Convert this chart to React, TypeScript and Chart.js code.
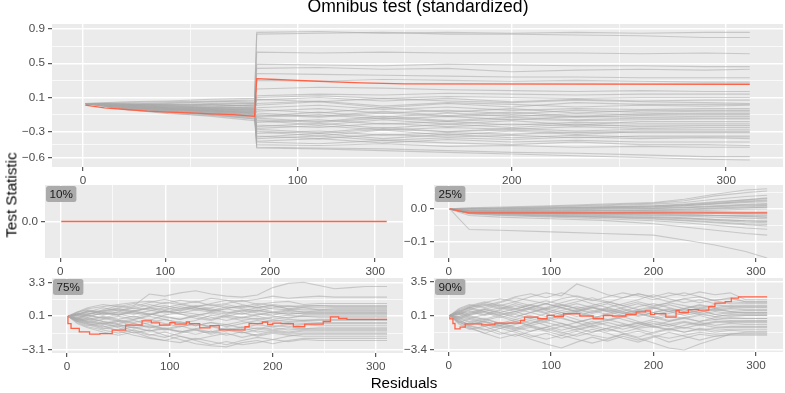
import React, { useEffect, useRef } from "react";
import { Chart, registerables } from "chart.js";
Chart.register(...registerables);

const FONT = "'Liberation Sans', Arial, Helvetica, sans-serif";
const RED = "#FF6347";
const GREY = "rgba(170,170,170,0.55)";

// ---- shared x axis ----
const X_MAJOR = [0, 100, 200, 300];
const X_MINOR = [50, 150, 250];
const X_MIN = -14.5;
const X_MAX = 326.5;

// ---- Omnibus test (standardized) ----
const TOP_Y_MAJOR = [0.9, 0.5, 0.1, -0.3, -0.6];
const TOP_Y_LABELS = ["0.9", "0.5", "0.1", "−0.3", "−0.6"];
const TOP_Y_MINOR = [0.7, 0.3, -0.1, -0.45];
const TOP_RED_X = [1, 10, 20, 30, 40, 50, 60, 70, 80, 81, 90, 100, 110, 120, 130, 140, 150, 311];
const TOP_RED_Y = [0.01, -0.02, -0.04, -0.06, -0.07, -0.08, -0.09, -0.1, -0.12, 0.32, 0.31, 0.3, 0.29, 0.28, 0.27, 0.265, 0.26, 0.255];
const TOP_GREY_X = [1, 20, 40, 60, 80, 81, 110, 140, 170, 200, 230, 260, 290, 311];
const TOP_GREY = [
  [0.03, 0.05, 0.06, 0.08, 0.09, 0.86, 0.87, 0.85, 0.86, 0.85, 0.86, 0.85, 0.86, 0.86],
  [0.03, 0.04, 0.05, 0.06, 0.07, 0.84, 0.85, 0.86, 0.84, 0.84, 0.83, 0.82, 0.8, 0.8],
  [0.03, 0.02, 0.03, 0.05, 0.04, 0.63, 0.62, 0.63, 0.62, 0.62, 0.62, 0.61, 0.62, 0.61],
  [0.03, 0.03, 0.01, 0.02, 0.03, 0.49, 0.48, 0.47, 0.49, 0.48, 0.47, 0.47, 0.46, 0.46],
  [0.03, 0.01, 0.02, 0.0, 0.01, 0.44, 0.45, 0.43, 0.44, 0.4, 0.42, 0.43, 0.42, 0.43],
  [0.03, 0.02, 0.0, -0.01, 0.02, 0.38, 0.37, 0.36, 0.35, 0.34, 0.34, 0.33, 0.33, 0.33],
  [0.03, 0.02, 0.04, 0.05, 0.06, 0.3, 0.29, 0.31, 0.3, 0.29, 0.3, 0.29, 0.28, 0.28],
  [0.03, 0.0, -0.01, -0.02, -0.01, 0.2, 0.22, 0.21, 0.19, 0.18, 0.17, 0.18, 0.17, 0.17],
  [0.03, 0.01, -0.02, -0.03, -0.03, 0.12, 0.14, 0.13, 0.15, 0.14, 0.13, 0.14, 0.14, 0.14],
  [0.03, 0.01, 0.01, 0.02, 0.0, 0.07, 0.1, 0.06, 0.09, 0.05, 0.08, 0.06, 0.07, 0.07],
  [0.03, -0.01, -0.03, -0.04, -0.05, 0.08, 0.05, 0.09, 0.06, 0.04, 0.07, 0.05, 0.04, 0.03],
  [0.03, 0.0, -0.03, -0.05, -0.06, 0.03, 0.06, 0.0, 0.04, 0.02, -0.01, 0.01, 0.0, 0.01],
  [0.03, -0.01, -0.04, -0.06, -0.08, -0.02, 0.01, -0.04, -0.01, -0.05, -0.03, -0.04, -0.03, -0.03],
  [0.03, -0.02, -0.05, -0.07, -0.09, -0.06, -0.03, -0.08, -0.05, -0.09, -0.05, -0.07, -0.06, -0.06],
  [0.03, -0.02, -0.06, -0.08, -0.11, -0.1, -0.13, -0.08, -0.12, -0.1, -0.13, -0.11, -0.1, -0.1],
  [0.03, -0.03, -0.06, -0.09, -0.12, -0.13, -0.1, -0.15, -0.12, -0.16, -0.12, -0.13, -0.12, -0.12],
  [0.03, -0.03, -0.07, -0.1, -0.14, -0.16, -0.19, -0.14, -0.18, -0.15, -0.17, -0.16, -0.15, -0.15],
  [0.03, -0.04, -0.08, -0.12, -0.17, -0.19, -0.16, -0.21, -0.18, -0.22, -0.19, -0.2, -0.2, -0.2],
  [0.03, -0.04, -0.09, -0.11, -0.15, -0.22, -0.25, -0.2, -0.24, -0.21, -0.23, -0.22, -0.22, -0.22],
  [0.03, -0.02, -0.04, -0.06, -0.07, -0.26, -0.23, -0.28, -0.25, -0.27, -0.24, -0.26, -0.25, -0.25],
  [0.03, -0.01, -0.02, -0.04, -0.04, -0.29, -0.32, -0.27, -0.3, -0.28, -0.31, -0.29, -0.29, -0.29],
  [0.03, 0.01, 0.0, -0.01, -0.02, -0.32, -0.29, -0.34, -0.31, -0.33, -0.3, -0.31, -0.31, -0.31],
  [0.03, 0.02, 0.01, 0.01, 0.0, -0.35, -0.38, -0.33, -0.36, -0.34, -0.37, -0.35, -0.35, -0.35],
  [0.03, 0.0, -0.01, -0.03, -0.04, -0.38, -0.35, -0.4, -0.37, -0.39, -0.36, -0.38, -0.37, -0.38],
  [0.03, -0.01, -0.03, -0.05, -0.07, -0.42, -0.44, -0.4, -0.43, -0.45, -0.42, -0.45, -0.45, -0.46],
  [0.03, -0.02, -0.05, -0.07, -0.1, -0.45, -0.46, -0.44, -0.47, -0.46, -0.48, -0.47, -0.48, -0.48],
  [0.03, -0.03, -0.07, -0.1, -0.13, -0.48, -0.49, -0.5, -0.52, -0.54, -0.55, -0.57, -0.59, -0.59],
  [0.03, -0.01, -0.04, -0.06, -0.08, -0.49, -0.5, -0.52, -0.54, -0.56, -0.58, -0.6, -0.62, -0.63],
  [0.03, 0.0, -0.02, -0.03, -0.05, -0.04, -0.08, -0.02, -0.07, -0.03, -0.08, -0.05, -0.05, -0.05],
  [0.03, -0.01, -0.03, -0.06, -0.09, -0.12, -0.07, -0.13, -0.08, -0.12, -0.09, -0.1, -0.09, -0.09],
  [0.03, 0.01, -0.01, -0.02, -0.03, -0.17, -0.22, -0.16, -0.21, -0.17, -0.22, -0.18, -0.18, -0.18],
  [0.03, -0.02, -0.04, -0.05, -0.06, -0.24, -0.2, -0.26, -0.21, -0.25, -0.21, -0.24, -0.23, -0.23],
  [0.03, 0.0, -0.02, -0.04, -0.06, -0.3, -0.35, -0.28, -0.34, -0.29, -0.33, -0.3, -0.3, -0.3],
  [0.03, -0.01, -0.05, -0.08, -0.11, -0.36, -0.32, -0.38, -0.33, -0.37, -0.34, -0.36, -0.36, -0.36],
  [0.03, -0.03, -0.06, -0.09, -0.12, -0.41, -0.38, -0.43, -0.39, -0.42, -0.4, -0.42, -0.42, -0.42],
  [0.03, 0.02, 0.02, 0.03, 0.03, 0.01, 0.05, -0.02, 0.03, -0.01, 0.04, 0.02, 0.02, 0.02],
  [0.03, 0.01, 0.0, -0.02, -0.02, -0.08, -0.12, -0.06, -0.11, -0.07, -0.12, -0.09, -0.08, -0.08],
  [0.03, -0.02, -0.06, -0.1, -0.15, -0.14, -0.18, -0.12, -0.17, -0.13, -0.16, -0.14, -0.14, -0.14],
  [0.03, 0.0, -0.03, -0.05, -0.08, 0.1, 0.12, 0.09, 0.11, 0.1, 0.09, 0.1, 0.1, 0.1],
  [0.03, -0.01, -0.04, -0.07, -0.1, -0.27, -0.31, -0.25, -0.3, -0.26, -0.29, -0.27, -0.27, -0.27],
];

// ---- 10% ----
const P10_Y_MAJOR = [0];
const P10_Y_LABELS = ["0.0"];
const P10_RED_X = [1, 311];
const P10_RED_Y = [0, 0];

// ---- 25% ----
const P25_Y_MAJOR = [0, -0.1];
const P25_Y_LABELS = ["0.0", "−0.1"];
const P25_Y_MINOR = [0.05, -0.05];
const P25_RED_X = [1, 10, 20, 311];
const P25_RED_Y = [0, -0.006, -0.012, -0.012];
const P25_GREY_X = [1, 10, 20, 50, 100, 150, 200, 230, 260, 290, 311];
const P25_GREY = [
  [0, -0.03, -0.063, -0.065, -0.07, -0.075, -0.08, -0.095, -0.11, -0.13, -0.15],
  [0, -0.01, -0.02, -0.025, -0.03, -0.035, -0.045, -0.055, -0.065, -0.075, -0.08],
  [0, 0.002, 0.004, 0.006, 0.01, 0.015, 0.02, 0.03, 0.045, 0.058, 0.062],
  [0, 0.001, 0.002, 0.004, 0.008, 0.012, 0.018, 0.025, 0.04, 0.05, 0.055],
  [0, 0, 0.001, 0.003, 0.006, 0.01, 0.015, 0.02, 0.03, 0.038, 0.042],
  [0, 0, 0, 0.002, 0.004, 0.007, 0.01, 0.015, 0.022, 0.028, 0.032],
  [0, -0.002, -0.004, -0.002, 0.002, 0.004, 0.006, 0.01, 0.015, 0.02, 0.022],
  [0, -0.003, -0.006, -0.005, -0.003, 0, 0.002, 0.004, 0.008, 0.012, 0.014],
  [0, -0.004, -0.008, -0.008, -0.006, -0.004, -0.002, 0, 0.002, 0.004, 0.005],
  [0, -0.005, -0.01, -0.011, -0.012, -0.012, -0.012, -0.013, -0.014, -0.015, -0.016],
  [0, -0.005, -0.011, -0.013, -0.016, -0.018, -0.02, -0.022, -0.025, -0.028, -0.03],
  [0, -0.006, -0.012, -0.015, -0.019, -0.022, -0.026, -0.03, -0.035, -0.04, -0.042],
  [0, -0.006, -0.013, -0.017, -0.022, -0.026, -0.031, -0.036, -0.042, -0.048, -0.052],
  [0, -0.007, -0.014, -0.019, -0.025, -0.03, -0.036, -0.042, -0.05, -0.058, -0.062],
  [0, -0.004, -0.009, -0.01, -0.01, -0.009, -0.008, -0.006, -0.004, -0.001, 0],
  [0, -0.002, -0.005, -0.004, -0.001, 0.002, 0.003, 0.006, 0.01, 0.014, 0.017],
  [0, -0.007, -0.015, -0.02, -0.022, -0.024, -0.026, -0.028, -0.032, -0.036, -0.038],
  [0, 0.001, 0.001, 0.001, 0.003, 0.005, 0.008, 0.012, 0.018, 0.022, 0.025],
  [0, -0.006, -0.011, -0.012, -0.014, -0.016, -0.018, -0.02, -0.02, -0.022, -0.024],
  [0, -0.003, -0.007, -0.007, -0.006, -0.005, -0.005, -0.003, 0, 0.003, 0.006],
  [0, -0.004, -0.009, -0.009, -0.008, -0.006, -0.004, -0.001, 0.003, 0.007, 0.009],
  [0, -0.005, -0.01, -0.012, -0.014, -0.015, -0.016, -0.018, -0.02, -0.019, -0.02],
  [0, -0.003, -0.006, -0.006, -0.004, -0.001, 0.001, 0.004, 0.007, 0.01, 0.011],
  [0, -0.006, -0.012, -0.014, -0.017, -0.02, -0.023, -0.027, -0.032, -0.036, -0.037],
  [0, -0.002, -0.004, -0.003, 0, 0.003, 0.006, 0.01, 0.016, 0.024, 0.028],
  [0, -0.005, -0.011, -0.012, -0.013, -0.014, -0.014, -0.016, -0.019, -0.023, -0.026],
  [0, -0.004, -0.008, -0.009, -0.01, -0.011, -0.01, -0.009, -0.011, -0.013, -0.012],
  [0, -0.006, -0.013, -0.016, -0.02, -0.024, -0.029, -0.034, -0.04, -0.045, -0.047],
  [0, -0.001, -0.002, 0, 0.003, 0.006, 0.01, 0.013, 0.02, 0.028, 0.034],
  [0, -0.003, -0.007, -0.007, -0.007, -0.006, -0.007, -0.007, -0.008, -0.009, -0.009],
];

// ---- 75% ----
const P75_Y_MAJOR = [3.3, 0.1, -3.1];
const P75_Y_LABELS = ["3.3", "0.1", "−3.1"];
const P75_Y_MINOR = [1.7, -1.5];
const P75_RED_X = [1, 4, 12, 22, 32, 44, 57, 73, 82, 90, 100, 105, 116, 119, 129, 139, 148, 161, 173, 177, 190, 195, 200, 208, 220, 231, 239, 249, 256, 264, 272, 311];
const P75_RED_Y = [0.1, -0.6, -1.06, -1.38, -1.6, -1.54, -1.22, -0.75, -0.34, -0.53, -0.75, -0.5, -0.65, -0.45, -0.6, -1.0, -0.8, -1.2, -1.2, -0.9, -0.6, -0.45, -0.7, -0.55, -0.6, -0.9, -0.65, -0.65, -0.4, 0.03, -0.12, -0.21];
const RW_X = [1, 10, 20, 35, 50, 65, 80, 95, 110, 125, 140, 155, 170, 185, 200, 215, 230, 245, 260, 275, 290, 311];
const P75_GREY = [
  [0.1, 0.3, 0.5, 0.6, 0.9, 1.1, 2.2, 2.0, 2.3, 2.5, 2.2, 2.0, 1.9, 2.1, 2.8, 3.2, 3.3, 3.0, 2.7, 2.8, 2.9, 2.9],
  [0.1, 0.4, 0.8, 1.0, 1.2, 1.4, 1.5, 1.3, 1.6, 1.4, 1.8, 1.6, 1.5, 1.7, 2.0, 1.8, 1.9, 2.0, 1.9, 1.9, 1.9, 1.9],
  [0.1, 0.5, 0.9, 1.2, 1.0, 1.3, 1.0, 1.4, 1.2, 1.5, 1.1, 1.3, 1.6, 1.2, 1.4, 1.5, 1.2, 1.3, 1.3, 1.3, 1.3, 1.3],
  [0.1, -0.2, 0.3, 0.6, 0.8, 0.5, 0.9, 1.1, 0.8, 1.0, 1.2, 0.9, 1.0, 1.3, 1.1, 0.8, 1.0, 1.1, 1.0, 1.0, 1.0, 1.0],
  [0.1, 0.2, 0.6, 0.3, 0.5, 0.9, 0.7, 0.4, 0.7, 0.9, 0.6, 1.0, 0.8, 0.6, 0.9, 1.1, 0.9, 0.7, 0.8, 0.8, 0.8, 0.8],
  [0.1, 0.3, 0.1, 0.4, 0.7, 0.4, 0.2, 0.6, 0.3, 0.1, 0.5, 0.3, 0.6, 0.9, 0.5, 0.7, 0.5, 0.6, 0.6, 0.6, 0.6, 0.6],
  [0.1, -0.1, 0.2, -0.1, 0.3, 0.6, 0.3, 0.0, -0.2, 0.2, 0.4, 0.1, -0.1, 0.2, 0.5, 0.3, 0.4, 0.4, 0.4, 0.4, 0.4, 0.4],
  [0.1, 0.2, -0.2, 0.1, -0.2, 0.1, -0.3, 0.2, 0.5, 0.3, 0.0, -0.3, 0.0, 0.3, 0.1, -0.1, 0.2, 0.2, 0.2, 0.2, 0.2, 0.2],
  [0.1, -0.3, -0.5, -0.2, 0.1, -0.2, 0.2, 0.6, 0.3, -0.1, -0.3, 0.1, 0.4, 0.1, -0.2, 0.0, 0.1, 0.0, 0.0, 0.0, 0.0, 0.0],
  [0.1, 0.0, -0.4, -0.7, -0.4, -0.8, -0.5, -0.2, -0.6, -0.3, 0.2, 0.0, -0.3, -0.1, -0.4, -0.2, -0.3, -0.2, -0.2, -0.2, -0.2, -0.2],
  [0.1, -0.4, -0.8, -0.5, -0.9, -0.6, -1.0, -0.7, -0.4, -0.8, -0.5, -0.9, -0.6, -0.3, -0.6, -0.5, -0.4, -0.5, -0.5, -0.5, -0.5, -0.5],
  [0.1, -0.2, -0.6, -1.0, -1.2, -0.9, -1.3, -1.0, -1.4, -1.1, -0.8, -1.2, -0.9, -1.1, -0.8, -0.9, -0.7, -0.8, -0.8, -0.8, -0.8, -0.8],
  [0.1, -0.5, -0.9, -1.2, -1.5, -1.2, -1.6, -1.9, -1.5, -1.2, -1.6, -1.3, -1.0, -1.4, -1.2, -1.0, -1.1, -1.0, -1.0, -1.0, -1.0, -1.0],
  [0.1, -0.3, -0.7, -1.1, -0.8, -1.3, -1.7, -1.4, -1.8, -2.1, -1.8, -1.5, -1.9, -1.6, -1.3, -1.5, -1.3, -1.3, -1.3, -1.3, -1.3, -1.3],
  [0.1, -0.6, -1.0, -1.4, -1.7, -1.4, -1.9, -2.2, -2.4, -2.0, -2.3, -2.6, -2.2, -1.9, -2.1, -1.8, -1.6, -1.6, -1.6, -1.6, -1.6, -1.6],
  [0.1, -0.4, -0.2, -0.6, -1.0, -1.5, -1.2, -1.7, -2.1, -2.5, -2.7, -2.8, -2.4, -2.2, -2.5, -2.2, -2.0, -2.0, -2.0, -2.0, -2.0, -2.0],
  [0.1, -0.1, -0.5, -0.8, -1.3, -1.7, -2.0, -2.2, -1.8, -2.2, -2.6, -2.3, -2.6, -2.4, -2.1, -2.3, -2.1, -2.2, -2.2, -2.2, -2.2, -2.2],
  [0.1, 0.4, 0.2, 0.7, 1.1, 0.8, 1.2, 0.9, 0.6, 0.9, 0.7, 0.4, 0.7, 0.4, 0.2, 0.5, 0.3, 0.3, 0.3, 0.3, 0.3, 0.3],
  [0.1, 0.2, 0.5, 0.9, 0.6, 1.0, 1.4, 1.7, 1.3, 1.0, 1.3, 1.6, 1.2, 0.9, 1.1, 0.8, 0.7, 0.7, 0.7, 0.7, 0.7, 0.7],
  [0.1, -0.2, 0.0, -0.4, -0.6, -0.3, -0.7, -1.1, -0.8, -1.2, -1.5, -1.1, -1.4, -1.7, -1.4, -1.6, -1.5, -1.5, -1.5, -1.5, -1.5, -1.5],
  [0.1, 0.3, 0.0, 0.4, 0.2, 0.6, 0.9, 0.5, 0.8, 1.1, 0.8, 0.5, 0.3, 0.6, 0.4, 0.6, 0.5, 0.5, 0.5, 0.5, 0.5, 0.5],
  [0.1, -0.1, -0.3, 0.0, -0.3, -0.5, -0.2, -0.6, -0.9, -0.6, -0.9, -0.7, -1.0, -0.7, -0.9, -0.7, -0.6, -0.6, -0.6, -0.6, -0.6, -0.6],
  [0.1, 0.2, 0.4, 0.2, 0.5, 0.3, 0.6, 0.9, 1.2, 0.9, 0.6, 0.8, 1.1, 0.9, 1.2, 1.0, 1.1, 1.1, 1.1, 1.1, 1.1, 1.1],
  [0.1, -0.2, -0.4, -0.6, -0.3, -0.6, -0.9, -1.2, -0.9, -0.6, -0.9, -1.2, -1.5, -1.2, -1.0, -1.2, -1.1, -1.1, -1.1, -1.1, -1.1, -1.1],
  [0.1, 0.1, 0.3, 0.5, 0.3, 0.0, 0.3, 0.1, -0.2, 0.1, -0.2, 0.2, 0.0, -0.2, 0.0, 0.2, 0.1, 0.1, 0.1, 0.1, 0.1, 0.1],
  [0.1, -0.3, -0.1, -0.4, -0.7, -1.0, -0.8, -1.1, -1.3, -1.6, -1.3, -1.7, -1.4, -1.8, -1.5, -1.7, -1.8, -1.8, -1.8, -1.8, -1.8, -1.8],
  [0.1, 0.5, 0.7, 0.5, 0.8, 0.6, 0.9, 0.7, 1.0, 0.7, 0.9, 1.2, 0.9, 1.1, 0.8, 0.7, 0.9, 0.9, 0.9, 0.9, 0.9, 0.9],
  [0.1, 0.0, 0.2, -0.1, -0.4, -0.2, 0.1, -0.2, -0.5, -0.8, -0.5, -0.7, -0.4, -0.6, -0.3, -0.4, -0.3, -0.3, -0.3, -0.3, -0.3, -0.3],
  [0.1, -0.4, -0.6, -0.9, -0.7, -1.0, -1.3, -1.1, -1.4, -1.1, -1.4, -1.0, -1.3, -1.0, -1.2, -1.4, -1.2, -1.2, -1.2, -1.2, -1.2, -1.2],
  [0.1, 0.3, 0.6, 0.4, 0.2, 0.5, 0.3, 0.6, 0.4, 0.7, 0.5, 0.8, 0.5, 0.7, 0.4, 0.3, 0.4, 0.4, 0.4, 0.4, 0.4, 0.4],
];

// ---- 90% ----
const P90_Y_MAJOR = [3.5, 0.1, -3.4];
const P90_Y_LABELS = ["3.5", "0.1", "−3.4"];
const P90_Y_MINOR = [1.8, -1.65];
const P90_RED_X = [1, 4, 6, 11, 16, 32, 45, 57, 70, 74, 87, 96, 103, 112, 128, 141, 151, 160, 173, 183, 192, 197, 201, 212, 222, 225, 234, 244, 254, 260, 270, 276, 283, 289, 311];
const P90_RED_Y = [0.0, -0.24, -0.71, -1.25, -1.08, -0.74, -0.85, -0.67, -0.67, -0.4, -0.06, -0.23, 0.11, 0.0, 0.28, 0.05, -0.23, 0.1, 0.05, 0.2, 0.46, 0.56, 0.18, 0.3, -0.06, 0.62, 0.4, 0.7, 0.65, 1.0, 1.35, 1.5, 1.86, 2.0, 2.0];
const P90_GREY = [
  [0.1, 0.6, 1.0, 1.4, 1.8, 1.5, 2.0, 2.4, 2.1, 3.3, 2.8, 2.2, 1.9, 2.3, 2.0, 2.4, 2.1, 2.5, 2.2, 2.4, 1.7, 1.7],
  [0.1, 0.8, 1.2, 0.9, 1.4, 1.9, 1.6, 1.3, 1.8, 2.1, 1.7, 1.4, 1.9, 2.3, 1.9, 1.5, 1.8, 2.0, 1.6, 1.9, 1.5, 1.5],
  [0.1, 0.5, 0.9, 1.3, 1.0, 0.7, 1.2, 1.6, 1.2, 0.8, 1.1, 1.5, 1.1, 0.7, 1.0, 1.4, 1.1, 0.8, 1.2, 1.0, 1.1, 1.1],
  [0.1, 0.3, 0.6, 0.2, 0.7, 1.1, 0.7, 0.3, 0.6, 1.0, 0.6, 0.2, 0.5, 1.0, 1.3, 0.9, 0.5, 0.9, 0.6, 0.8, 0.7, 0.7],
  [0.1, -0.2, 0.3, 0.7, 0.3, -0.1, 0.4, 0.8, 0.4, 0.0, 0.5, 0.9, 0.5, 0.1, 0.4, 0.0, 0.3, 0.6, 0.2, 0.4, 0.4, 0.4],
  [0.1, 0.4, 0.0, -0.3, 0.2, 0.5, 0.0, -0.4, 0.1, 0.5, 0.1, -0.3, 0.0, 0.4, 0.0, -0.4, -0.1, 0.2, 0.0, 0.1, 0.1, 0.1],
  [0.1, -0.4, -0.8, -0.4, 0.0, -0.5, -0.9, -0.5, -0.1, -0.6, -0.2, 0.2, -0.3, -0.7, -0.3, 0.1, -0.2, -0.5, -0.1, -0.2, -0.2, -0.2],
  [0.1, -0.6, -1.0, -1.4, -0.9, -0.5, -1.0, -1.4, -1.0, -0.6, -1.1, -1.5, -1.0, -0.6, -1.0, -1.3, -0.9, -0.6, -0.9, -0.7, -0.8, -0.8],
  [0.1, -0.8, -1.3, -1.0, -1.6, -2.0, -1.5, -1.1, -1.6, -2.0, -1.6, -1.2, -1.7, -2.1, -1.6, -1.2, -1.6, -1.3, -1.6, -1.4, -1.5, -1.5],
  [0.1, -0.5, -1.1, -1.7, -2.2, -1.8, -2.3, -2.8, -3.2, -2.6, -2.1, -2.5, -2.0, -2.4, -2.0, -2.6, -2.2, -1.8, -2.0, -1.9, -1.9, -1.9],
  [0.1, -0.3, -0.9, -1.3, -1.8, -1.4, -1.9, -2.3, -1.9, -2.3, -2.7, -2.3, -1.8, -2.2, -2.7, -3.2, -3.4, -2.8, -2.3, -1.8, -1.6, -1.6],
  [0.1, 0.2, 0.7, 1.1, 1.5, 2.0, 2.3, 1.9, 2.4, 2.0, 1.6, 2.0, 2.4, 2.1, 1.7, 2.1, 2.4, 2.0, 1.6, 1.3, 1.3, 1.3],
  [0.1, 0.0, -0.3, -0.8, -1.2, -0.8, -0.4, -0.9, -1.4, -1.0, -0.5, -0.9, -1.3, -0.9, -0.5, -0.8, -1.2, -0.8, -1.1, -1.0, -1.0, -1.0],
  [0.1, 0.3, 0.8, 0.4, -0.1, 0.3, 0.8, 0.4, 0.9, 1.3, 0.9, 0.5, 0.1, 0.5, 0.9, 0.5, 0.1, 0.4, 0.8, 0.5, 0.6, 0.6],
  [0.1, -0.2, -0.6, -0.2, -0.7, -1.2, -0.7, -0.2, 0.2, -0.3, -0.8, -0.4, 0.0, -0.5, -0.9, -0.5, -0.1, -0.5, -0.3, -0.4, -0.4, -0.4],
  [0.1, 0.6, 0.2, 0.7, 1.2, 0.8, 0.4, 0.9, 1.4, 1.8, 1.3, 0.9, 1.3, 1.7, 2.2, 1.8, 1.4, 1.7, 1.3, 1.5, 1.4, 1.4],
  [0.1, -0.7, -1.2, -1.7, -1.2, -1.6, -2.1, -1.7, -2.2, -1.8, -1.3, -1.7, -2.2, -2.6, -2.1, -1.6, -2.0, -2.4, -2.0, -1.8, -1.8, -1.8],
  [0.1, 0.4, 0.9, 1.2, 0.8, 1.3, 0.9, 1.3, 0.9, 0.5, 0.9, 1.3, 0.8, 0.4, 0.8, 1.2, 0.8, 1.1, 0.8, 0.9, 0.9, 0.9],
  [0.1, -0.1, -0.5, -1.0, -0.6, -1.1, -1.5, -1.1, -0.7, -1.2, -1.6, -1.2, -0.8, -1.3, -1.7, -1.3, -1.6, -1.2, -1.4, -1.3, -1.3, -1.3],
  [0.1, 0.2, -0.2, 0.2, 0.6, 0.2, -0.2, 0.3, -0.2, -0.6, -0.2, 0.3, 0.7, 0.3, -0.1, 0.3, 0.7, 0.3, 0.0, 0.2, 0.2, 0.2],
  [0.1, 0.4, 0.1, 0.5, 0.9, 0.5, 0.9, 1.3, 0.9, 0.5, 0.9, 0.5, 0.9, 1.3, 0.9, 0.5, 0.8, 1.2, 0.9, 1.1, 1.0, 1.0],
  [0.1, -0.3, 0.1, -0.3, -0.7, -0.3, -0.7, -0.3, -0.7, -1.1, -0.7, -0.3, -0.7, -1.1, -0.7, -1.0, -0.6, -0.9, -0.6, -0.5, -0.6, -0.6],
  [0.1, 0.2, 0.5, 0.1, 0.4, 0.0, 0.4, 0.0, 0.4, 0.7, 0.3, 0.7, 0.3, 0.6, 0.2, 0.5, 0.8, 0.4, 0.7, 0.5, 0.3, 0.3],
  [0.1, -0.5, -0.9, -0.5, -0.9, -1.3, -0.9, -1.3, -1.7, -1.3, -0.9, -1.3, -1.6, -1.2, -1.0, -1.4, -1.1, -1.4, -1.2, -1.1, -1.1, -1.1],
  [0.1, 0.7, 1.1, 1.5, 1.1, 1.5, 1.1, 0.7, 1.1, 1.5, 1.9, 1.5, 1.1, 1.5, 1.1, 1.4, 1.8, 1.4, 1.7, 1.8, 1.5, 1.5],
  [0.1, -0.1, 0.2, 0.5, 0.1, -0.3, 0.1, -0.3, 0.1, 0.4, 0.0, -0.4, -0.1, 0.3, -0.1, -0.5, -0.2, 0.1, -0.3, -0.1, -0.2, -0.2],
  [0.1, 0.3, -0.1, -0.5, -0.9, -0.5, -0.2, -0.6, -1.0, -1.4, -1.0, -0.6, -1.0, -0.7, -1.1, -0.8, -0.5, -0.8, -0.5, -0.6, -0.5, -0.5],
  [0.1, 0.5, 0.9, 0.5, 0.1, 0.5, 0.9, 0.6, 0.2, 0.6, 1.0, 0.6, 0.3, 0.7, 0.4, 0.8, 0.5, 0.2, 0.5, 0.3, 0.4, 0.4],
  [0.1, -0.6, -0.2, -0.6, -1.0, -1.4, -1.1, -1.5, -1.9, -1.5, -1.9, -2.2, -1.8, -1.5, -1.9, -2.2, -1.9, -1.6, -1.8, -1.7, -1.7, -1.7],
  [0.1, 0.0, 0.4, 0.8, 0.4, 0.8, 1.2, 0.8, 1.2, 0.8, 0.4, 0.8, 0.4, 0.0, 0.4, 0.7, 0.3, 0.6, 0.2, 0.0, 0.1, 0.1],
];

// ---- layout constants ----
const Y_AXIS_W = 44;
const PAD_T = 14;
const PAD_R = 2;
const X_AXIS_H = 22;

const isIn = (arr: number[], v: number) => arr.some((a) => Math.abs(a - v) < 1e-9);

type Spec = {
  area: [number, number, number, number];
  yMin: number;
  yMax: number;
  yMajor: number[];
  yLabels: string[];
  yMinor: number[];
  tag?: string;
  redX: number[];
  redY: number[];
  greyX: number[];
  grey: number[][];
  redStep: boolean;
};

function Panel({ spec }: { spec: Spec }) {
  const ref = useRef<HTMLCanvasElement>(null);
  const [L, T, R, B] = spec.area;
  const left = L - Y_AXIS_W;
  const top = T - PAD_T;
  const w = R - L + Y_AXIS_W + PAD_R;
  const h = B - T + PAD_T + X_AXIS_H;

  useEffect(() => {
    const datasets: any[] = [
      {
        data: spec.redX.map((x, i) => ({ x, y: spec.redY[i] })),
        borderColor: RED,
        borderWidth: 1.3,
        pointRadius: 0,
        fill: false,
        stepped: spec.redStep ? "after" : false,
      },
      ...spec.grey.map((ys) => ({
        data: spec.greyX.map((x, i) => ({ x, y: ys[i] })),
        borderColor: GREY,
        borderWidth: 1.1,
        pointRadius: 0,
        fill: false,
        stepped: false,
      })),
    ];
    const yAll = [...spec.yMajor, ...spec.yMinor].sort((a, b) => a - b);
    const xAll = [...X_MAJOR, ...X_MINOR].sort((a, b) => a - b);
    const bg = {
      id: "bg",
      beforeDraw(chart: any) {
        const { ctx, chartArea: a } = chart;
        ctx.save();
        ctx.fillStyle = "#EBEBEB";
        ctx.fillRect(a.left, a.top, a.right - a.left, a.bottom - a.top);
        ctx.restore();
      },
    };
    const tag = {
      id: "tag",
      afterDatasetsDraw(chart: any) {
        if (!spec.tag) return;
        const { ctx, chartArea: a } = chart;
        ctx.save();
        ctx.font = `11.7px ${FONT}`;
        const tw = ctx.measureText(spec.tag).width;
        const bw = tw + 7;
        const bh = 16;
        const x = a.left + 1;
        const y = a.top + 1;
        ctx.fillStyle = "#ABABAB";
        ctx.beginPath();
        (ctx as any).roundRect(x, y, bw, bh, 2.5);
        ctx.fill();
        ctx.fillStyle = "#1A1A1A";
        ctx.textBaseline = "middle";
        ctx.textAlign = "left";
        ctx.fillText(spec.tag, x + 3.5, y + bh / 2 + 0.5);
        ctx.restore();
      },
    };
    const tickFont = { family: FONT, size: 11.7 };
    const chart = new Chart(ref.current as HTMLCanvasElement, {
      type: "line",
      data: { datasets },
      options: {
        animation: false,
        responsive: false,
        events: [],
        layout: { padding: { left: 0, top: PAD_T, right: PAD_R, bottom: 0 } },
        plugins: { legend: { display: false }, tooltip: { enabled: false }, title: { display: false } },
        scales: {
          x: {
            type: "linear",
            min: X_MIN,
            max: X_MAX,
            afterBuildTicks: (s: any) => {
              s.ticks = xAll.map((v) => ({ value: v }));
            },
            afterFit: (s: any) => {
              s.height = X_AXIS_H;
            },
            ticks: {
              autoSkip: false,
              maxRotation: 0,
              minRotation: 0,
              padding: 3,
              color: "#4D4D4D",
              font: tickFont,
              callback: (v: any) => (isIn(X_MAJOR, Number(v)) ? String(v) : ""),
            },
            grid: {
              color: "#FFFFFF",
              lineWidth: (c: any) => (isIn(X_MAJOR, c.tick.value) ? 1.4 : 0.7),
              tickColor: (c: any) => (isIn(X_MAJOR, c.tick.value) ? "#333333" : "rgba(0,0,0,0)"),
              tickLength: 4,
              tickWidth: 1,
            },
            border: { display: false },
          },
          y: {
            type: "linear",
            min: spec.yMin,
            max: spec.yMax,
            afterBuildTicks: (s: any) => {
              s.ticks = yAll.map((v) => ({ value: v }));
            },
            afterFit: (s: any) => {
              s.width = Y_AXIS_W;
            },
            ticks: {
              autoSkip: false,
              padding: 3,
              color: "#4D4D4D",
              font: tickFont,
              callback: (v: any) => {
                const i = spec.yMajor.findIndex((m) => Math.abs(m - Number(v)) < 1e-9);
                return i >= 0 ? spec.yLabels[i] : "";
              },
            },
            grid: {
              color: "#FFFFFF",
              lineWidth: (c: any) => (isIn(spec.yMajor, c.tick.value) ? 1.4 : 0.7),
              tickColor: (c: any) => (isIn(spec.yMajor, c.tick.value) ? "#333333" : "rgba(0,0,0,0)"),
              tickLength: 4,
              tickWidth: 1,
            },
            border: { display: false },
          },
        },
      } as any,
      plugins: [bg, tag],
    });
    return () => chart.destroy();
  }, []);

  return (
    <canvas
      ref={ref}
      width={w}
      height={h}
      style={{ position: "absolute", left, top, width: w, height: h }}
    />
  );
}

const SPECS: Spec[] = [
  {
    area: [52, 24, 783, 167], yMin: -0.711, yMax: 0.958,
    yMajor: TOP_Y_MAJOR, yLabels: TOP_Y_LABELS, yMinor: TOP_Y_MINOR,
    redX: TOP_RED_X, redY: TOP_RED_Y, greyX: TOP_GREY_X, grey: TOP_GREY, redStep: false,
  },
  {
    area: [45, 185, 403, 258], yMin: -0.05, yMax: 0.05,
    yMajor: P10_Y_MAJOR, yLabels: P10_Y_LABELS, yMinor: [], tag: "10%",
    redX: P10_RED_X, redY: P10_RED_Y, greyX: [], grey: [], redStep: false,
  },
  {
    area: [434, 185, 783, 258], yMin: -0.15, yMax: 0.0734,
    yMajor: P25_Y_MAJOR, yLabels: P25_Y_LABELS, yMinor: P25_Y_MINOR, tag: "25%",
    redX: P25_RED_X, redY: P25_RED_Y, greyX: P25_GREY_X, grey: P25_GREY, redStep: false,
  },
  {
    area: [52, 278, 403, 353], yMin: -3.38, yMax: 3.71,
    yMajor: P75_Y_MAJOR, yLabels: P75_Y_LABELS, yMinor: P75_Y_MINOR, tag: "75%",
    redX: P75_RED_X, redY: P75_RED_Y, greyX: RW_X, grey: P75_GREY, redStep: true,
  },
  {
    area: [434, 278, 783, 352], yMin: -3.603, yMax: 3.906,
    yMajor: P90_Y_MAJOR, yLabels: P90_Y_LABELS, yMinor: P90_Y_MINOR, tag: "90%",
    redX: P90_RED_X, redY: P90_RED_Y, greyX: RW_X, grey: P90_GREY, redStep: true,
  },
];

export default function App() {
  const text = (size: number): React.CSSProperties => ({
    position: "absolute",
    fontFamily: FONT,
    fontSize: size,
    lineHeight: 1,
    whiteSpace: "nowrap",
    color: "#000000",
  });
  return (
    <div style={{ position: "absolute", left: 0, top: 0, width: 785, height: 393, overflow: "hidden", background: "#FFFFFF" }}>
      {SPECS.map((s, i) => (
        <Panel key={i} spec={s} />
      ))}
      <div style={{ ...text(17.6), left: 418, top: 7, transform: "translate(-50%, -50%)" }}>Omnibus test (standardized)</div>
      <div style={{ ...text(15.2), left: 11, top: 195, transform: "translate(-50%, -50%) rotate(-90deg)" }}>Test Statistic</div>
      <div style={{ ...text(15.2), left: 404, top: 383, transform: "translate(-50%, -50%)" }}>Residuals</div>
    </div>
  );
}
